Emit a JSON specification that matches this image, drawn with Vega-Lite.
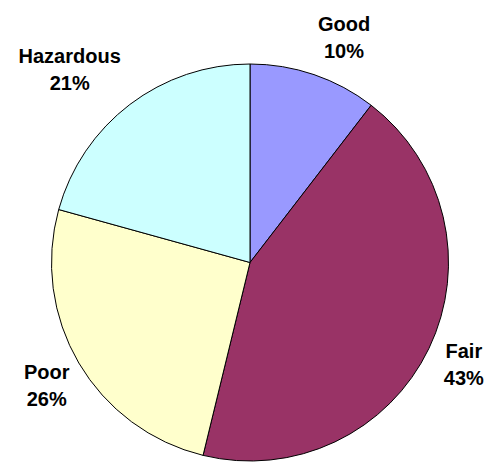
{
  "$schema": "https://vega.github.io/schema/vega-lite/v6.json",
  "width": 474,
  "height": 399,
  "padding": {"left": 13, "top": 63, "right": 0, "bottom": 0},
  "autosize": {"type": "none"},
  "background": "white",
  "view": {"stroke": null},
  "data": {
    "values": [
      {"category": "Good", "value": 10.45, "label": "Good\n10%", "rank": 1},
      {"category": "Fair", "value": 43.35, "label": "Fair\n43%", "rank": 2},
      {"category": "Poor", "value": 25.5, "label": "Poor\n26%", "rank": 3},
      {"category": "Hazardous", "value": 20.7, "label": "Hazardous\n21%", "rank": 4}
    ]
  },
  "encoding": {
    "theta": {"field": "value", "type": "quantitative", "stack": true},
    "order": {"field": "rank", "type": "quantitative"}
  },
  "layer": [
    {
      "mark": {"type": "arc", "radius": 198.5, "stroke": "black", "strokeWidth": 1},
      "encoding": {
        "color": {
          "field": "category",
          "type": "nominal",
          "scale": {
            "domain": ["Good", "Fair", "Poor", "Hazardous"],
            "range": ["#9999FF", "#993366", "#FFFFCC", "#CCFFFF"]
          },
          "legend": null
        }
      }
    },
    {
      "mark": {"type": "text", "radius": 245, "dx": 15, "dy": -6, "font": "Liberation Sans", "fontWeight": "bold", "fontSize": 20, "lineBreak": "\n", "lineHeight": 27, "color": "black"},
      "encoding": {"text": {"condition": {"test": "datum.category == 'Good'", "field": "label"}, "value": ""}}
    },
    {
      "mark": {"type": "text", "radius": 245, "dx": -7, "dy": -17, "font": "Liberation Sans", "fontWeight": "bold", "fontSize": 20, "lineBreak": "\n", "lineHeight": 27, "color": "black"},
      "encoding": {"text": {"condition": {"test": "datum.category == 'Fair'", "field": "label"}, "value": ""}}
    },
    {
      "mark": {"type": "text", "radius": 245, "dx": 8, "dy": -14, "font": "Liberation Sans", "fontWeight": "bold", "fontSize": 20, "lineBreak": "\n", "lineHeight": 27, "color": "black"},
      "encoding": {"text": {"condition": {"test": "datum.category == 'Poor'", "field": "label"}, "value": ""}}
    },
    {
      "mark": {"type": "text", "radius": 245, "dx": -32, "dy": -11, "font": "Liberation Sans", "fontWeight": "bold", "fontSize": 20, "lineBreak": "\n", "lineHeight": 27, "color": "black"},
      "encoding": {"text": {"condition": {"test": "datum.category == 'Hazardous'", "field": "label"}, "value": ""}}
    }
  ]
}
